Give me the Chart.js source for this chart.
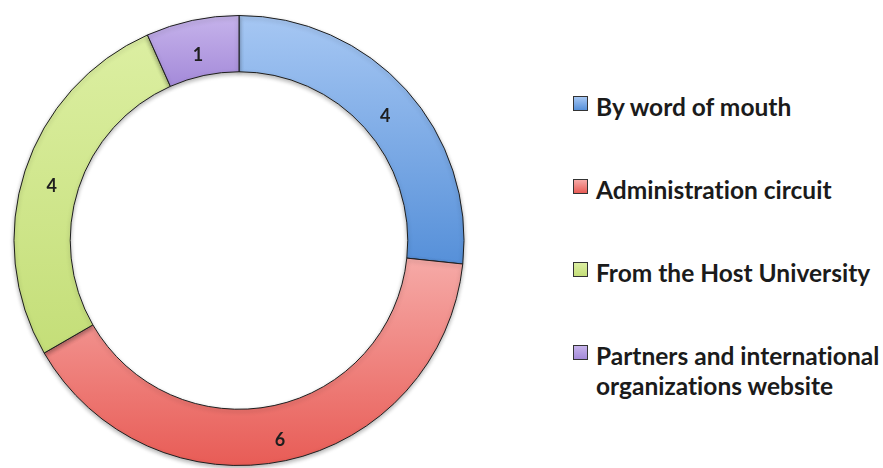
<!DOCTYPE html>
<html>
<head>
<meta charset="utf-8">
<script src="https://cdn.jsdelivr.net/npm/chart.js@4/dist/chart.umd.min.js"></script>
<style>
  html, body { margin: 0; padding: 0; background: #fff; }
  body { width: 883px; height: 468px; position: relative; overflow: hidden; font-family: Lato, "Open Sans", sans-serif; }
  #wrap { position: absolute; left: 0; top: 0; width: 478px; height: 468px; }
  #legend { position: absolute; left: 573px; top: 92px; }
  .item { display: flex; align-items: flex-start; font-size: 24.5px; font-weight: bold; line-height: 30px; color: #1b1b1b; margin-bottom: 53px; white-space: pre-line; font-variant-ligatures: none; }
  .box { width: 13px; height: 13px; border: 1.5px solid #333; margin-top: 4px; margin-right: 8px; flex: none; }
</style>
</head>
<body>
<div id="wrap"><canvas id="myChart"></canvas></div>
<div id="legend"></div>
<script>
// answers, clockwise from 12 o'clock
const labels = ['By word of mouth', 'Administration circuit', 'From the Host University', 'Partners and international organizations website'];
const legendText = ['By word of mouth', 'Administration circuit', 'From the Host University', 'Partners and international\norganizations website'];
const counts = [4, 6, 4, 1];

// light (top) -> dark (bottom) per slice
const lightColors = ['#a6c7f3', '#f6aaa7', '#dcefa2', '#c6b3eb'];
const darkColors = ['#5690d9', '#e85c56', '#c4de78', '#a48ad9'];

function sliceFill(c) {
  const chart = c.chart;
  const area = chart.chartArea;
  const ctrl = chart.getDatasetMeta(0).controller;
  const i = c.dataIndex;
  if (!area || !ctrl || !ctrl.outerRadius) return lightColors[i];
  const total = counts.reduce((a, b) => a + b, 0);
  let before = 0;
  for (let k = 0; k < i; k++) before += counts[k];
  const a0 = -Math.PI / 2 + before / total * Math.PI * 2;
  const a1 = a0 + counts[i] / total * Math.PI * 2;
  const cy = (area.top + area.bottom) / 2;
  const rs = [ctrl.innerRadius, ctrl.outerRadius];
  let ys = [];
  rs.forEach(r => { ys.push(cy + r * Math.sin(a0)); ys.push(cy + r * Math.sin(a1)); });
  const inRange = a => a > a0 && a < a1;
  if (inRange(-Math.PI / 2) || inRange(Math.PI * 1.5)) ys.push(cy - ctrl.outerRadius);
  if (inRange(Math.PI / 2)) ys.push(cy + ctrl.outerRadius);
  const g = chart.ctx.createLinearGradient(0, Math.min(...ys), 0, Math.max(...ys));
  g.addColorStop(0, lightColors[i]);
  g.addColorStop(1, darkColors[i]);
  return g;
}

const shadowPlugin = {
  id: 'ringShadow',
  beforeDatasetsDraw(chart) {
    const ctx = chart.ctx;
    ctx.save();
    ctx.shadowColor = 'rgba(0,0,0,0.3)';
    ctx.shadowBlur = 4;
    ctx.shadowOffsetY = 2;
  },
  afterDatasetsDraw(chart) {
    chart.ctx.restore();
  }
};

// numbers sit a little below the ring's mid line, like the original
const valueLabels = {
  id: 'valueLabels',
  afterDraw(chart) {
    const ctx = chart.ctx;
    const meta = chart.getDatasetMeta(0);
    ctx.save();
    ctx.font = 'bold 18px Lato, "Open Sans", sans-serif';
    ctx.fillStyle = '#1e1e1e';
    ctx.textAlign = 'center';
    ctx.textBaseline = 'middle';
    meta.data.forEach((arc, i) => {
      const p = arc.getCenterPoint();
      ctx.fillText(String(counts[i]), p.x, p.y + 7);
    });
    ctx.restore();
  }
};

const ctx = document.getElementById('myChart').getContext('2d');
new Chart(ctx, {
  type: 'doughnut',
  data: {
    labels: labels,
    datasets: [{
      data: counts,
      backgroundColor: sliceFill,
      borderColor: '#1e1e1e',
      borderWidth: 1
    }]
  },
  options: {
    responsive: true,
    maintainAspectRatio: false,
    animation: false,
    cutout: '75%',
    layout: { padding: { top: 15, bottom: 2, left: 0, right: 0 } },
    plugins: {
      legend: { display: false },
      tooltip: { enabled: false }
    }
  },
  plugins: [shadowPlugin, valueLabels]
});

// html legend
const legend = document.getElementById('legend');
legendText.forEach((t, i) => {
  const item = document.createElement('div');
  item.className = 'item';
  const box = document.createElement('span');
  box.className = 'box';
  box.style.background = `linear-gradient(${lightColors[i]}, ${darkColors[i]})`;
  const txt = document.createElement('span');
  txt.textContent = t;
  item.appendChild(box);
  item.appendChild(txt);
  legend.appendChild(item);
});
</script>
</body>
</html>
